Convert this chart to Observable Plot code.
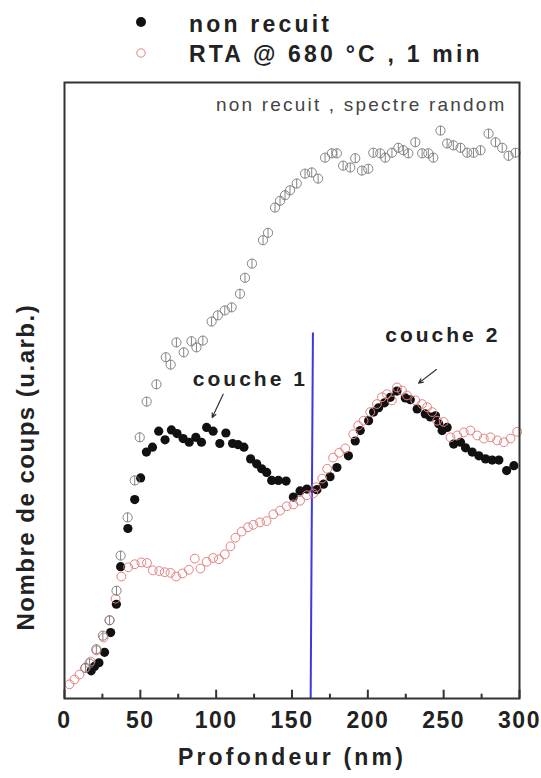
<!DOCTYPE html>
<html>
<head>
<meta charset="utf-8">
<script src="https://cdn.jsdelivr.net/npm/d3@7"></script>
<script src="https://cdn.jsdelivr.net/npm/@observablehq/plot@0.6"></script>
<style>
  body { margin: 0; background: #fff; font-family: "Liberation Sans", Arial, sans-serif; }
  #wrap { width: 541px; height: 778px; position: relative; }
  #legend { display: block; }
  #chart svg { display: block; }
</style>
</head>
<body>
<div id="wrap">
  <svg id="legend" width="541" height="80"></svg>
  <div id="chart"></div>
</div>
<script>
// ---- data (depth in nm, counts in arbitrary units) ----
const randomDepth = [13.9,16.5,21,25.3,29.7,34.3,37,41.6,46.3,49.6,54.2,60.6,66.8,70,73.8,78.6,83.7,87,91.2,97,101.1,105.7,110.2,115.7,119,123.6,130.9,134.2,138.8,142.1,145.4,148.7,153.1,158.6,163,167.2,171.8,176.3,179.6,183.7,188.4,191.7,196.1,200.3,203.6,208.2,211.5,215.9,220.1,223.4,226.7,231.3,235.8,239.9,243.2,247.9,252.3,256.4,261.1,265.5,269.7,274.3,279.6,284.2,288.6,292.8,297.4];
const randomCounts = [5.0,5.7,8.0,10.2,12.7,17.5,23.2,29.4,35.4,42.4,48.2,51.0,55.4,54.2,57.8,56.2,58.0,57.0,58.1,61.2,62.2,63.0,63.5,65.7,68.3,70.6,74.4,75.6,79.7,80.8,81.7,82.5,83.6,85.2,85.4,84.4,87.8,88.5,88.5,86.5,86.2,87.7,85.7,86.0,88.6,88.5,87.8,88.6,89.4,89.0,88.5,90.3,88.5,88.5,87.8,92.2,90.1,89.8,89.4,88.6,88.6,89.0,91.7,90.3,89.4,88.1,88.6];

const nonRecuitDepth = [17.6,19.8,22.7,26.4,30.4,34.2,37.0,41.8,46.3,50.2,54.0,58.0,62.1,66.3,70.5,74.2,78.2,82.2,86.6,90.3,93.7,98.0,102.4,106.4,110.8,114.5,118.3,122.7,126.7,130.0,133.3,136.6,141.0,146.1,150.9,155.3,159.8,166.4,170.8,175.1,179.6,187.2,191.7,195.0,200.5,203.8,207.1,211.0,214.8,219.2,224.7,228.0,232.5,237.9,241.2,244.6,246.7,249.0,252.3,256.6,261.1,264.4,268.8,273.2,277.6,282.0,286.4,291.5,296.3];
const nonRecuitCounts = [4.5,5.2,5.8,7.5,10.7,15.3,21.4,27.6,32.3,35.8,40.0,40.8,43.4,42.0,43.6,43.0,42.2,41.6,42.4,41.6,44.0,43.4,41.4,43.1,41.4,41.2,40.8,38.9,38.1,37.3,36.7,35.4,35.4,35.3,32.7,33.7,34.0,33.9,34.8,36.0,37.5,39.4,41.8,43.5,45.1,46.5,47.2,48.0,48.9,49.9,48.8,48.5,47.0,46.2,45.7,45.9,44.6,43.5,44.0,41.3,41.6,40.7,40.0,39.4,38.9,38.7,38.7,37.0,37.8];

const rtaDepth = [3.3,6.6,9.9,13.5,17.2,21.1,25.8,29.7,33.7,37.5,42.0,46.3,50.7,54.4,58.2,62.5,66.1,69.9,73.6,77.8,82.0,85.9,89.6,93.7,98.0,101.8,105.7,109.4,112.7,116.8,121.0,124.5,128.9,133.2,137.7,142.1,146.5,150.9,155.3,159.8,164.1,165.9,169.9,173.2,177.1,181.1,185.1,190.4,193.7,197.2,201.6,206.0,209.3,212.6,215.9,219.2,222.5,225.8,231.3,235.8,239.1,242.4,245.7,250.0,254.5,258.9,263.3,267.7,272.1,276.5,280.9,285.3,289.7,294.1,298.5];
const rtaCounts = [2.3,3.1,3.9,4.9,6.0,7.8,9.9,12.7,16.2,19.8,21.3,21.8,22.1,22.0,20.8,20.7,20.5,20.4,19.8,20.3,20.9,22.7,21.1,22.2,22.8,22.6,23.4,24.7,26.1,27.1,27.8,28.2,28.6,28.8,29.9,30.5,31.2,31.5,32.1,33.0,33.3,34.3,35.7,37.3,39.1,39.9,40.6,42.9,44.3,45.1,46.5,47.8,48.9,49.4,48.4,50.5,50.0,49.2,48.4,47.8,47.3,46.5,45.1,44.9,42.4,42.7,43.2,43.5,42.7,42.2,42.4,41.9,41.6,42.2,43.3];

const majorTicks = [0, 50, 100, 150, 200, 250, 300];
const minorTicks = [25, 75, 125, 175, 225, 275];

const legendLabels = ["non recuit", "RTA @ 680 °C , 1 min"];
const annotLabels = ["non recuit , spectre random", "couche 1", "couche 2"];
const annotX = [291.5, 84.6, 211.5];
const annotY = [95.3, 50.8, 57.8];
const arrowFrom = [[104.6, 49.4], [245.2, 53.4]];
const arrowTo = [[97.4, 45.6], [233.5, 51.2]];
const separator = [{x1: 163.8, y1: 59.4, x2: 162.3, y2: 0}];
const xLabel = "Profondeur (nm)";
const yLabel = "Nombre de coups (u.arb.)";

// ---- tables ----
const randomData = randomDepth.map((d, i) => ({d, c: randomCounts[i]}));
const nrData = nonRecuitDepth.map((d, i) => ({d, c: nonRecuitCounts[i]}));
const rtaData = rtaDepth.map((d, i) => ({d, c: rtaCounts[i]}));
const arrows = arrowFrom.map((f, i) => ({x1: f[0], y1: f[1], x2: arrowTo[i][0], y2: arrowTo[i][1]}));

const circleBar = {
  draw(context, size) {
    const r = Math.sqrt(size / Math.PI);
    context.moveTo(r, 0);
    context.arc(0, 0, r, 0, 2 * Math.PI);
    context.moveTo(0, -r);
    context.lineTo(0, r);
  }
};

const FONT = '"Liberation Sans", Arial, sans-serif';

const chart = Plot.plot({
  width: 541,
  height: 698,
  marginTop: 2,
  marginBottom: 80,
  marginLeft: 64,
  marginRight: 22,
  style: {fontFamily: FONT, background: "#fff", color: "#222"},
  x: {domain: [0, 300]},
  y: {domain: [0, 100], axis: null},
  marks: [
    Plot.ruleX(majorTicks, {y1: 0, y2: 1.35, stroke: "#333", strokeWidth: 2}),
    Plot.ruleX(minorTicks, {y1: 0, y2: 0.7, stroke: "#333", strokeWidth: 2}),
    Plot.axisX({ticks: majorTicks, tickSize: 0, tickPadding: 13, fontSize: 23, fontWeight: "bold", fill: "#222", label: null, tickFormat: d => String(d), className: "xticks"}),
    Plot.link(separator, {x1: "x1", y1: "y1", x2: "x2", y2: "y2", stroke: "#3a3ae0", strokeWidth: 2}),
    Plot.dot(nrData, {x: "d", y: "c", r: 4.6, fill: "#111", stroke: "none"}),
    Plot.dot(rtaData, {x: "d", y: "c", r: 4.4, fill: "none", stroke: "#e58080", strokeWidth: 1}),
    Plot.dot(randomData, {x: "d", y: "c", r: 4.6, symbol: circleBar, fill: "none", stroke: "#777", strokeWidth: 0.9}),
    Plot.arrow(arrows, {x1: "x1", y1: "y1", x2: "x2", y2: "y2", stroke: "#333", strokeWidth: 1.2, headLength: 6, headAngle: 50}),
    Plot.text([annotLabels[0]], {x: [annotX[0]], y: [annotY[0]], text: d => d, textAnchor: "end", lineAnchor: "bottom", fontSize: 19, fill: "#444", className: "annot-random"}),
    Plot.text(annotLabels.slice(1), {x: annotX.slice(1), y: annotY.slice(1), text: d => d, textAnchor: "start", lineAnchor: "bottom", fontSize: 21, fontWeight: "bold", fill: "#222", className: "annot-couche"}),
    Plot.text([xLabel], {frameAnchor: "bottom", textAnchor: "middle", dy: 66, text: d => d, fontSize: 23, fontWeight: "bold", fill: "#222", className: "xlabel"}),
    Plot.text([yLabel], {frameAnchor: "left", textAnchor: "start", rotate: -90, dx: -38, dy: 240, text: d => d, fontSize: 24, fontWeight: "bold", fill: "#222", className: "ylabel"}),
    Plot.frame({stroke: "#333", strokeWidth: 2})
  ]
});
document.getElementById("chart").appendChild(chart);

// letter spacing to match the wide lettering of the original
chart.querySelectorAll(".xticks text").forEach(t => t.setAttribute("letter-spacing", "1.5"));
chart.querySelectorAll(".xlabel text").forEach(t => t.setAttribute("letter-spacing", "3.2"));
chart.querySelectorAll(".ylabel text").forEach(t => t.setAttribute("letter-spacing", "1.5"));
chart.querySelectorAll(".annot-couche text").forEach(t => t.setAttribute("letter-spacing", "3"));
chart.querySelectorAll(".annot-random text").forEach(t => t.setAttribute("letter-spacing", "2.2"));

// ---- legend above the plot ----
const lg = d3.select("#legend");
const rows = [
  {label: legendLabels[0], cy: 22, ty: 32, filled: true},
  {label: legendLabels[1], cy: 53, ty: 62, filled: false}
];
rows.forEach(r => {
  lg.append("circle").attr("cx", 141).attr("cy", r.cy).attr("r", r.filled ? 5 : 4.2)
    .attr("fill", r.filled ? "#111" : "none").attr("stroke", r.filled ? "none" : "#e58080").attr("stroke-width", 1);
  lg.append("text").attr("x", 189).attr("y", r.ty).text(r.label)
    .attr("font-family", FONT).attr("font-size", 23).attr("font-weight", "bold")
    .attr("letter-spacing", 3.2).attr("fill", "#222");
});
</script>
</body>
</html>
